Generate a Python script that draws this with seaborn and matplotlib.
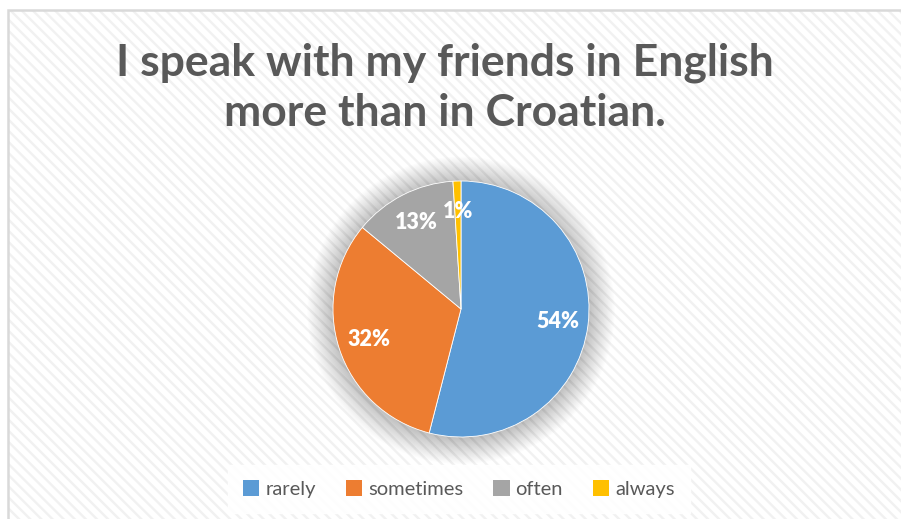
#!/usr/bin/env python3
"""Excel-style pie chart: speaking English with friends."""

import matplotlib.pyplot as plt
import seaborn as sns
from matplotlib.patches import Circle, Patch, Rectangle

sns.set_theme(style="white")
plt.rcParams["font.family"] = ["Lato", "DejaVu Sans"]
plt.rcParams["hatch.linewidth"] = 1.7

TITLE = "I speak with my friends in English\nmore than in Croatian."
CATEGORIES = ["rarely", "sometimes", "often", "always"]
SHARES = [54, 32, 13, 1]
COLORS = ["#5B9BD5", "#ED7D31", "#A5A5A5", "#FFC000"]
TEXT_GREY = "#595959"

W, H = 901, 519
fig = plt.figure(figsize=(W / 100, H / 100), dpi=100, facecolor="white")

# striped chart background with a light frame (only top/left edges visible)
bg = Rectangle((8 / W, 0), 1, 1 - 10 / H, transform=fig.transFigure,
               facecolor="white", edgecolor="#F1F1F1", linewidth=0,
               hatch="\\\\\\", zorder=-3)
fig.patches.append(bg)
frame = Rectangle((8 / W, -0.05), 1.1, 1.05 - 10 / H, transform=fig.transFigure,
                  facecolor="none", edgecolor="#D9D9D9", linewidth=1.8, zorder=-2)
fig.patches.append(frame)

# pie axes: centre (461, 309) px, radius 128 px
cx, cy, r, half = 461, 309, 128, 200
ax = fig.add_axes([(cx - half) / W, (H - cy - half) / H, 2 * half / W, 2 * half / H])
ax.set_facecolor("none")
lim = half / r

# soft shadow around the pie
for k in range(20, 0, -1):
    ax.add_patch(Circle((0, -0.01), 1 + k * 0.01, facecolor="#000000",
                        alpha=0.01, edgecolor="none", zorder=1))

wedges, texts, autotexts = ax.pie(
    SHARES, colors=COLORS, startangle=90, counterclock=False,
    autopct=lambda p: f"{p:.0f}%", pctdistance=0.76, radius=1,
    wedgeprops=dict(edgecolor="white", linewidth=0.6),
    textprops=dict(color="white", fontsize=15.5, fontweight="heavy"),
)
for w in wedges:
    w.set_zorder(2)
for t in autotexts:
    t.set_zorder(3)
ax.set_xlim(-lim, lim)
ax.set_ylim(-lim, lim)
ax.set_aspect("equal")
ax.axis("off")

fig.text(445 / W, 1 - 88 / H, TITLE, ha="center", va="center",
         fontsize=32, fontweight="bold", color=TEXT_GREY, linespacing=1.3)

handles = [Patch(facecolor=c, edgecolor="none", label=l) for c, l in zip(COLORS, CATEGORIES)]
leg = fig.legend(handles=handles, loc="center", bbox_to_anchor=(459 / W, 1 - 489 / H),
                 ncol=4, frameon=True, fancybox=False, facecolor="white",
                 edgecolor="white", fontsize=14.5, handlelength=0.8, handleheight=0.8,
                 handletextpad=0.3, columnspacing=1.5, borderpad=0.75)
leg.get_frame().set_alpha(0.9)
for t in leg.get_texts():
    t.set_color(TEXT_GREY)

fig.savefig("out.png", dpi=100, facecolor="white")
